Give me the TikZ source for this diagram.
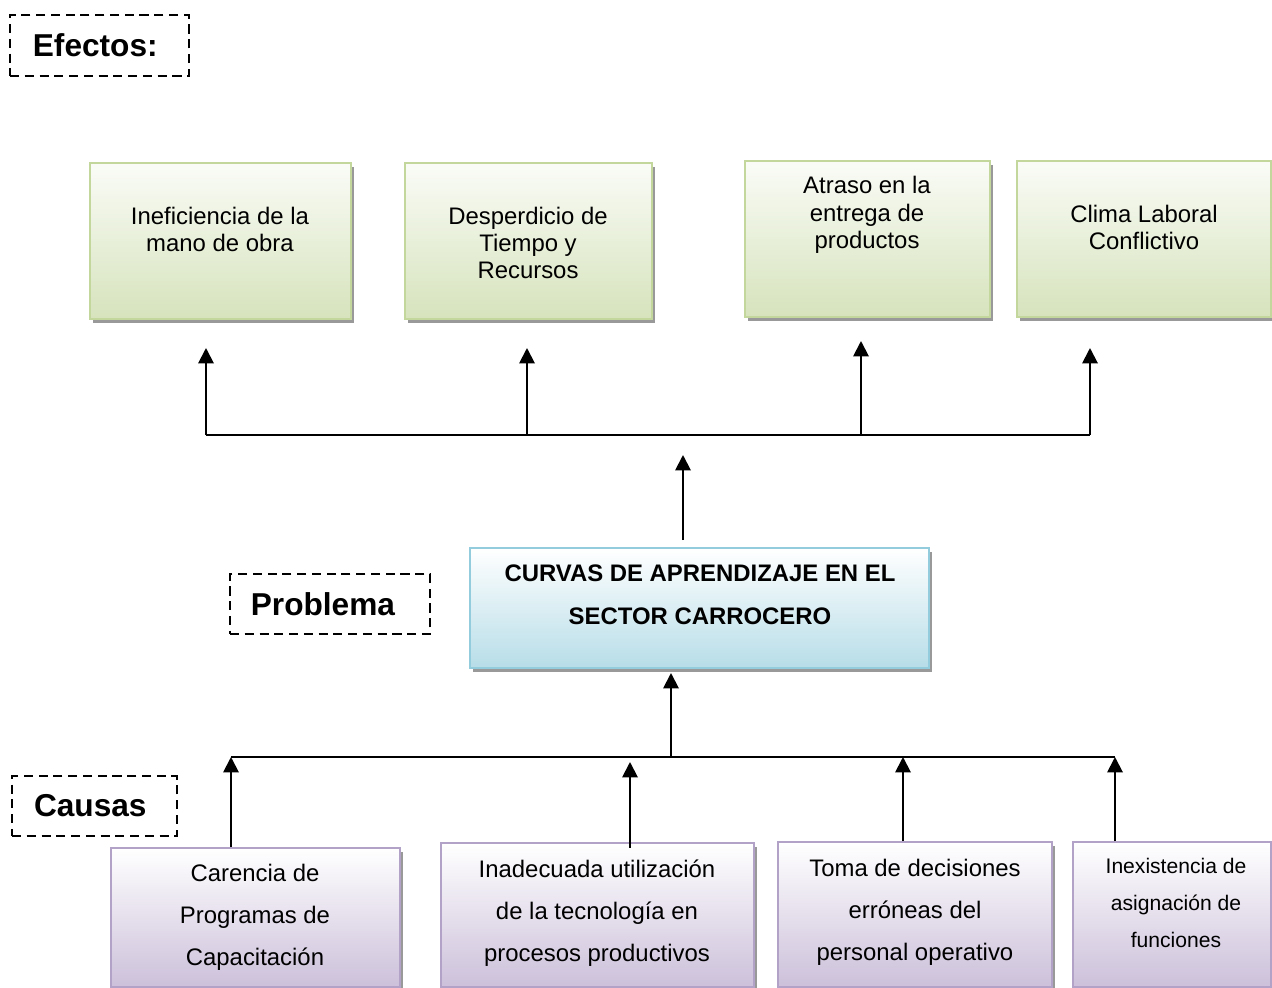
\documentclass[tikz,border=0pt]{standalone}
\usepackage{fontspec}
\setmainfont{Liberation Sans}
\usetikzlibrary{arrows.meta,shadows,positioning}

\definecolor{verdeborde}{RGB}{195,214,155}
\definecolor{verdefondo}{RGB}{214,227,188}
\definecolor{azulborde}{RGB}{147,205,221}
\definecolor{azulfondo}{RGB}{183,221,232}
\definecolor{moradoborde}{RGB}{178,162,199}
\definecolor{moradofondo}{RGB}{204,192,218}

\tikzset{
  caja/.style={draw, line width=1.4pt, inner sep=0pt,
    drop shadow={shadow xshift=2pt, shadow yshift=-2.5pt, fill=black!40, opacity=1}},
  efecto/.style={caja, draw=verdeborde, top color=white!60!verdefondo!30, bottom color=verdefondo},
  problema/.style={caja, draw=azulborde, top color=white, bottom color=azulfondo},
  causa/.style={caja, draw=moradoborde, top color=white, bottom color=moradofondo},
  etiqueta/.style={draw, dash pattern=on 6.5pt off 4pt, line width=1.7pt, inner sep=0pt,
    font=\fontsize{22.5}{26}\selectfont\bfseries},
  txt/.style={align=center, font=\fontsize{17}{19.5}\selectfont},
  txtc/.style={align=center, font=\fontsize{17}{30}\selectfont},
  linea/.style={line width=1.4pt},
  flecha/.style={line width=1.4pt, -{Triangle[width=11pt,length=11pt]}}
}

\begin{document}
\begin{tikzpicture}[x=0.025cm, y=-0.025cm]
\useasboundingbox (0,0) rectangle (1272,988);

% etiquetas
\node[etiqueta, minimum width=4.475cm, minimum height=1.525cm] (lefectos) at (99.5,45.5) {Efectos:\hspace*{6pt}};
\node[etiqueta, minimum width=5cm, minimum height=1.5cm] (lproblema) at (330,604) {Problema\hspace*{10pt}};
\node[etiqueta, minimum width=4.125cm, minimum height=1.5cm] (lcausas) at (94.5,806) {Causas\hspace*{6pt}};

% efectos
\node[efecto, minimum width=6.525cm, minimum height=3.9cm] (e1) at (220.5,241) {};
\node[efecto, minimum width=6.175cm, minimum height=3.9cm] (e2) at (528.5,241) {};
\node[efecto, minimum width=6.125cm, minimum height=3.9cm] (e3) at (867.5,239) {};
\node[efecto, minimum width=6.35cm, minimum height=3.9cm] (e4) at (1144,239) {};
\node[txt] (te1) at (220,229.5) {Ineficiencia de la\\mano de obra};
\node[txt] (te2) at (528,243) {Desperdicio de\\Tiempo y\\Recursos};
\node[txt] (te3) at (867,215) {Atraso en la\\entrega de\\productos};
\node[txt] (te4) at (1144,227.5) {Clima Laboral\\Conflictivo};

% problema
\node[problema, minimum width=11.475cm, minimum height=3cm] (prob) at (699.5,608) {};
\node[txtc, font=\fontsize{17}{30.5}\selectfont\bfseries] (tprob) at (700,594.5) {CURVAS DE APRENDIZAJE EN EL\\SECTOR CARROCERO};

% causas
\node[causa, minimum width=7.225cm, minimum height=3.475cm] (c1) at (255.5,917.5) {};
\node[causa, minimum width=7.825cm, minimum height=3.6cm] (c2) at (597.5,915) {};
\node[causa, minimum width=6.85cm, minimum height=3.625cm] (c3) at (915,914.5) {};
\node[causa, minimum width=4.95cm, minimum height=3.625cm] (c4) at (1172,914.5) {};
\node[txtc] (tc1) at (255,917) {Carencia de\\Programas de\\Capacitación};
\node[txtc] (tc2) at (597,913) {Inadecuada utilización\\de la tecnología en\\procesos productivos};
\node[txtc] (tc3) at (915,912) {Toma de decisiones\\erróneas del\\personal operativo};
\node[txtc, font=\fontsize{15}{26.2}\selectfont] (tc4) at (1176,903) {Inexistencia de\\asignación de\\funciones};

% conectores de efectos
\coordinate (eb1) at (206,435);
\coordinate (eb2) at (527,435);
\coordinate (eb3) at (861,435);
\coordinate (eb4) at (1090,435);
\coordinate (ef1) at (206,348);
\coordinate (ef2) at (527,348);
\coordinate (ef3) at (861,341);
\coordinate (ef4) at (1090,348);
\coordinate (pa) at (683,540);
\coordinate (pb) at (683,455);
\draw[linea] (eb1) -- (eb4);
\draw[flecha] (eb1) -- (ef1);
\draw[flecha] (eb2) -- (ef2);
\draw[flecha] (eb3) -- (ef3);
\draw[flecha] (eb4) -- (ef4);
\draw[flecha] (pa) -- (pb);

% conectores de causas
\coordinate (cb1) at (231,757);
\coordinate (cb2) at (630,762);
\coordinate (cb3) at (903,757);
\coordinate (cb4) at (1115,757);
\coordinate (pc) at (671,757);
\coordinate (pd) at (671,673);
\draw[linea] (cb1) -- (cb4);
\draw[flecha] (c1.north -| cb1) -- (cb1);
\draw[flecha] ([yshift=-4pt]c2.north -| cb2) -- (cb2);
\draw[flecha] (c3.north -| cb3) -- (cb3);
\draw[flecha] (c4.north -| cb4) -- (cb4);
\draw[flecha] (pc) -- (pd);
\end{tikzpicture}
\end{document}
